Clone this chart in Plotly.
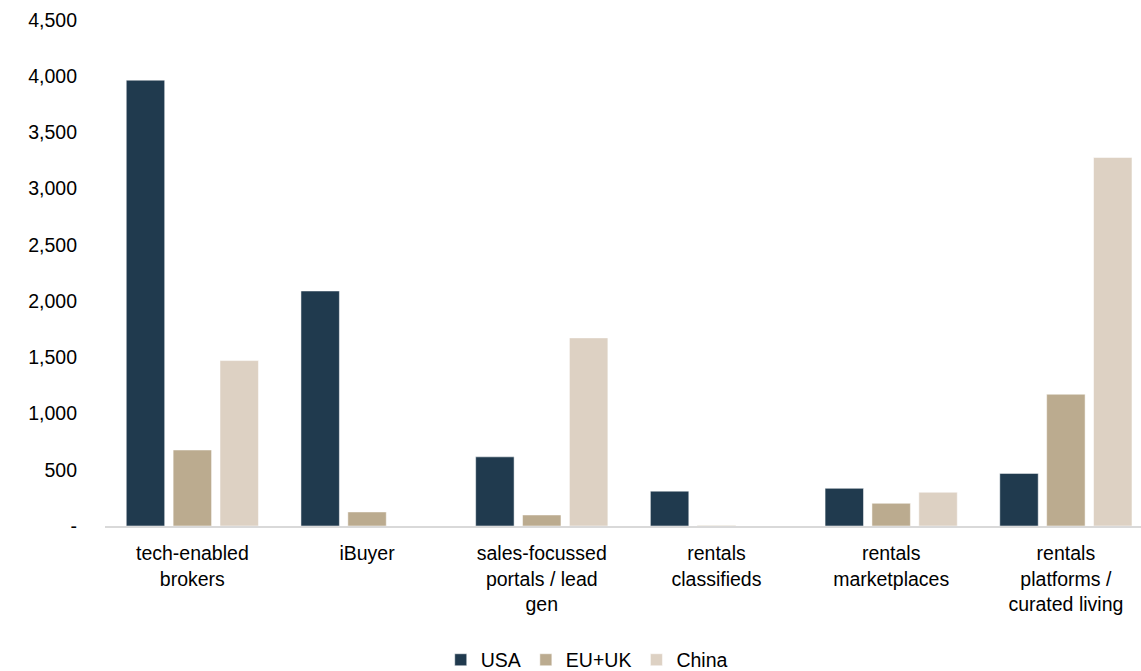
import plotly.graph_objects as go

categories = ["tech-enabled<br>brokers", "iBuyer", "sales-focussed<br>portals / lead<br>gen",
              "rentals<br>classifieds", "rentals<br>marketplaces", "rentals<br>platforms /<br>curated living"]
usa = [3965, 2090, 615, 310, 335, 468]
eu_uk = [676, 125, 98, 5, 202, 1172]
china = [1471, 0, 1673, 0, 300, 3277]

y_tickvals = [0, 500, 1000, 1500, 2000, 2500, 3000, 3500, 4000, 4500]
y_ticktext = ["-", "500", "1,000", "1,500", "2,000", "2,500", "3,000", "3,500", "4,000", "4,500"]

colors = {"USA": "#203A4E", "EU+UK": "#BBAB8F", "China": "#DDD1C3"}

fig = go.Figure()
for name, vals in [("USA", usa), ("EU+UK", eu_uk), ("China", china)]:
    fig.add_trace(go.Bar(name=name, x=categories, y=vals,
                         marker=dict(color=colors[name], line=dict(color="rgba(255,255,255,0.5)", width=1))))

fig.update_layout(
    width=1141, height=671,
    barmode="group", bargap=0.195, bargroupgap=0.18,
    plot_bgcolor="white", paper_bgcolor="white",
    margin=dict(l=105, r=0, t=20, b=145, autoexpand=False),
    font=dict(family="Liberation Sans, Arial, sans-serif", size=19.5, color="#000000"),
    showlegend=True,
    legend=dict(orientation="h", x=0.465, xanchor="center", y=-0.265, yanchor="middle",
                font=dict(size=19.5), itemwidth=30, traceorder="normal"),
    xaxis=dict(range=[-0.5, 5.43], showline=True, linecolor="#D9D9D9", linewidth=2,
               ticks="", showgrid=False, tickfont=dict(size=19.5), automargin=False,
               ticklabelstandoff=9),
    yaxis=dict(range=[0, 4500], tickvals=y_tickvals, ticktext=y_ticktext, showgrid=False,
               zeroline=False, showline=False, ticks="", ticklabelstandoff=27,
               tickfont=dict(size=19.5), automargin=False),
)

fig.write_html("out.html", config={"displayModeBar": False},
               post_script="document.body.style.margin='0';")
